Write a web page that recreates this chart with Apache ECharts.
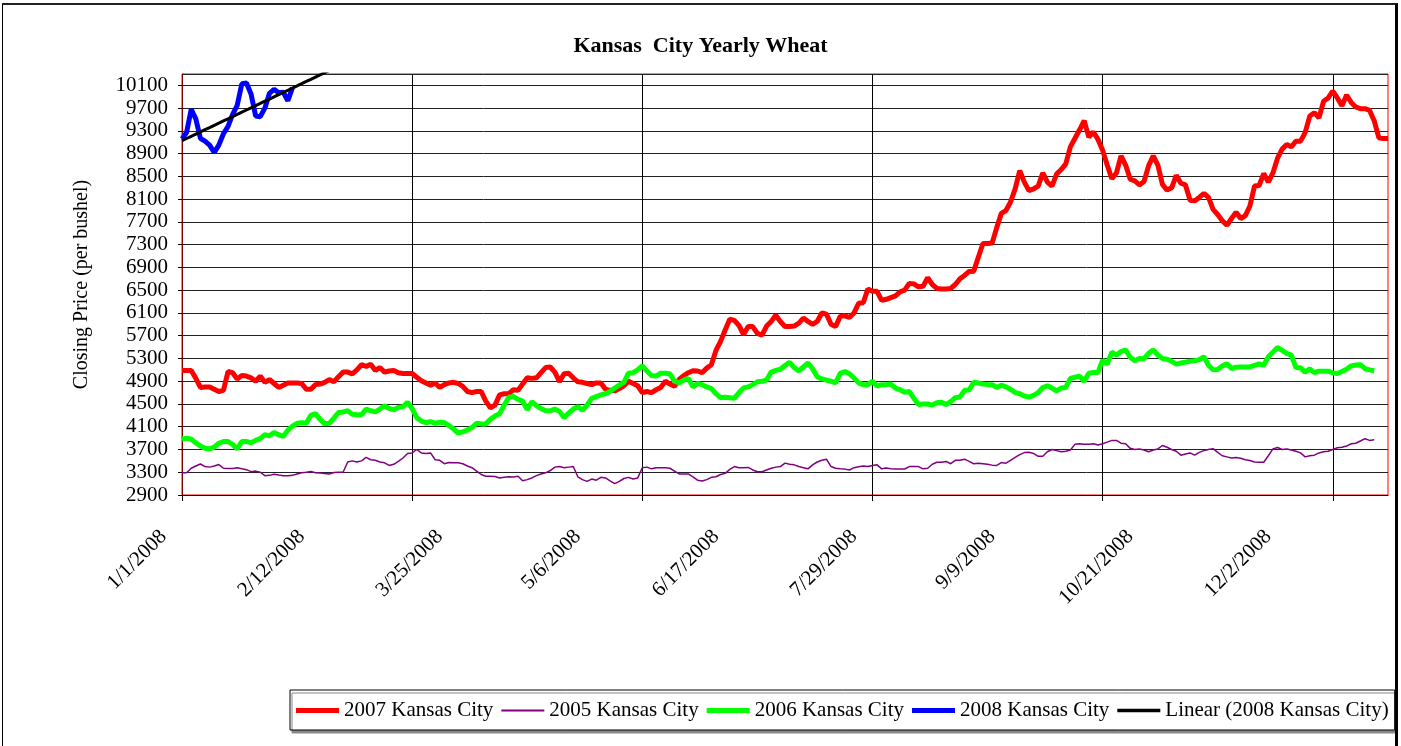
<!DOCTYPE html>
<html>
<head>
<meta charset="utf-8">
<script src="https://cdn.jsdelivr.net/npm/echarts@6/dist/echarts.min.js"></script>
<style>
  html, body { margin: 0; padding: 0; background: #fff; }
  #chart { position: absolute; left: 0; top: 0; width: 1401px; height: 746px; }
  .frame {
    position: absolute; left: 2px; top: 3px; width: 1392px; height: 800px;
    border-top: 2px solid #222; border-left: 1px solid #000; border-right: 3px solid #000;
    pointer-events: none;
  }
</style>
</head>
<body>
<div id="chart"></div>
<div class="frame"></div>
<script>
// weekdays of 2008 (plus Jan 1 2009) used as categories
const dayCount = 263;
const dates = [];
{
  const d = new Date(2008, 0, 1);
  while (dates.length < dayCount) {
    const wd = d.getDay();
    if (wd !== 0 && wd !== 6) dates.push((d.getMonth() + 1) + '/' + d.getDate() + '/' + d.getFullYear());
    d.setDate(d.getDate() + 1);
  }
}

const kc2007 = [
  5090,5090,5090,4950,4790,4800,4800,4760,4720,4740,
  5070,5050,4940,5000,4990,4960,4900,4990,4880,4930,
  4860,4790,4830,4870,4870,4870,4860,4760,4760,4840,
  4850,4880,4930,4890,4980,5060,5060,5030,5100,5190,
  5160,5200,5090,5140,5060,5080,5090,5050,5035,5035,
  5035,4970,4910,4870,4830,4870,4790,4840,4870,4880,
  4860,4810,4720,4700,4720,4720,4550,4430,4480,4660,
  4680,4680,4750,4740,4850,4960,4950,4960,5050,5140,
  5150,5060,4890,5030,5040,4960,4890,4880,4860,4840,
  4870,4870,4760,4740,4730,4770,4820,4900,4860,4820,
  4700,4720,4700,4750,4790,4900,4850,4810,4930,5000,
  5050,5085,5080,5050,5130,5190,5440,5600,5800,5990,
  5970,5880,5720,5860,5860,5740,5710,5870,5950,6060,
  5950,5860,5860,5870,5920,6010,5950,5900,5950,6100,
  6080,5900,5860,6040,6050,6020,6100,6270,6280,6520,
  6480,6480,6320,6340,6370,6400,6470,6500,6620,6610,
  6560,6570,6720,6600,6530,6520,6520,6530,6600,6700,
  6760,6830,6835,7080,7320,7320,7330,7600,7850,7900,
  8050,8280,8600,8400,8250,8280,8330,8560,8400,8330,
  8540,8620,8720,9020,9170,9320,9480,9190,9280,9150,
  8960,8700,8460,8560,8860,8700,8450,8420,8350,8410,
  8690,8860,8700,8360,8260,8300,8520,8380,8350,8080,
  8070,8130,8200,8130,7920,7830,7720,7640,7760,7870,
  7760,7810,7980,8330,8340,8550,8400,8560,8820,8980,
  9060,9020,9120,9120,9270,9560,9620,9530,9820,9880,
  10000,9880,9740,9930,9800,9720,9690,9690,9660,9480,
  9180,9165,9165
];

const kc2005 = [
  3290,3290,3370,3410,3445,3400,3390,3410,3435,3370,
  3365,3365,3380,3360,3345,3310,3320,3300,3240,3245,
  3265,3250,3240,3240,3245,3270,3290,3300,3315,3290,
  3285,3280,3270,3295,3300,3300,3480,3500,3480,3500,
  3560,3520,3510,3480,3465,3420,3440,3490,3550,3630,
  3640,3700,3640,3630,3640,3520,3510,3450,3470,3465,
  3465,3450,3410,3380,3320,3260,3230,3230,3225,3200,
  3210,3220,3215,3230,3150,3170,3200,3240,3270,3290,
  3330,3390,3400,3380,3390,3400,3220,3170,3140,3180,
  3160,3210,3200,3150,3100,3140,3190,3210,3180,3200,
  3380,3390,3360,3380,3380,3380,3370,3320,3270,3270,
  3270,3220,3160,3145,3170,3210,3220,3260,3280,3350,
  3400,3380,3380,3385,3340,3310,3310,3340,3370,3390,
  3400,3460,3440,3430,3400,3380,3360,3430,3480,3510,
  3530,3400,3370,3360,3355,3340,3380,3395,3410,3400,
  3420,3430,3360,3375,3360,3355,3355,3357,3400,3400,
  3400,3360,3370,3440,3475,3475,3490,3450,3510,3510,
  3530,3490,3450,3460,3450,3440,3425,3420,3470,3460,
  3510,3560,3610,3645,3650,3630,3580,3580,3660,3700,
  3680,3660,3670,3690,3790,3800,3790,3790,3800,3780,
  3800,3830,3860,3860,3810,3800,3720,3700,3710,3690,
  3660,3690,3710,3770,3740,3700,3670,3600,3620,3640,
  3600,3650,3680,3700,3715,3650,3590,3570,3550,3560,
  3545,3520,3505,3480,3475,3475,3590,3710,3735,3700,
  3710,3690,3670,3640,3570,3590,3600,3640,3660,3670,
  3700,3730,3740,3760,3800,3810,3850,3890,3860,3870
];

const kc2006 = [
  3880,3900,3880,3820,3760,3720,3710,3740,3810,3840,
  3840,3790,3710,3840,3840,3820,3860,3890,3960,3940,
  4000,3960,3930,4040,4110,4160,4170,4160,4300,4330,
  4230,4150,4160,4250,4350,4360,4380,4320,4310,4310,
  4410,4380,4360,4410,4470,4420,4400,4440,4450,4530,
  4420,4260,4200,4170,4190,4160,4180,4170,4120,4060,
  3990,4010,4040,4090,4160,4150,4150,4230,4290,4330,
  4480,4620,4630,4580,4550,4400,4540,4470,4420,4380,
  4380,4410,4370,4260,4340,4410,4450,4390,4480,4600,
  4630,4660,4680,4720,4780,4830,4880,5040,5050,5100,
  5170,5080,5000,4990,5040,5040,5030,4900,4870,4920,
  4950,4800,4860,4840,4800,4770,4680,4610,4620,4610,
  4600,4700,4780,4800,4840,4890,4900,4920,5060,5090,
  5110,5176,5230,5140,5080,5150,5220,5120,4980,4940,
  4920,4900,4870,5040,5070,5030,4960,4870,4840,4840,
  4900,4815,4840,4840,4850,4780,4750,4706,4720,4600,
  4490,4500,4500,4480,4520,4530,4490,4540,4610,4625,
  4740,4745,4880,4870,4850,4840,4840,4790,4830,4800,
  4760,4700,4680,4640,4620,4650,4700,4790,4820,4780,
  4730,4780,4790,4950,4970,4990,4900,5040,5055,5055,
  5270,5200,5410,5360,5420,5450,5320,5260,5300,5295,
  5390,5450,5360,5300,5285,5250,5200,5220,5235,5250,
  5260,5280,5330,5180,5100,5105,5170,5205,5123,5145,
  5150,5152,5152,5180,5205,5180,5328,5410,5495,5440,
  5390,5360,5140,5135,5060,5117,5050,5076,5076,5076,
  5047,5035,5070,5110,5170,5185,5190,5120,5100,5085
];

const kc2008 = [
  9160,9270,9680,9510,9170,9120,9050,8920,9050,9250,
  9380,9590,9750,10130,10140,9950,9560,9550,9700,9960,
  10030,9970,9980,9830,10060
];

const yTicks = { min: 2900, max: 10300, step: 400 };

// least squares trend of the 2008 series, like the spreadsheet's linear trendline
function linearTrend(values, length) {
  const n = values.length;
  let sx = 0, sy = 0, sxy = 0, sxx = 0;
  values.forEach((v, i) => { sx += i; sy += v; sxy += i * v; sxx += i * i; });
  const slope = (n * sxy - sx * sy) / (n * sxx - sx * sx);
  const icpt = (sy - slope * sx) / n;
  const out = [];
  for (let i = 0; i < length; i++) out.push(Math.round(icpt + slope * i));
  return out;
}
const trend2008 = linearTrend(kc2008, dayCount);

// legend swatches: a bar of given thickness centred in a 43x12 box
const swatch = (h) => 'path://M0,0L0,0M0,12L0,12M0,' + (6 - h / 2) + 'L43,' + (6 - h / 2) + 'L43,' + (6 + h / 2) + 'L0,' + (6 + h / 2) + 'Z';

const serif = 'Liberation Serif';
const myChart = echarts.init(document.getElementById('chart'));

const option = {
  animation: false,
  backgroundColor: '#fff',
  title: {
    text: 'Kansas  City Yearly Wheat',
    left: 'center',
    top: 30,
    textStyle: { fontFamily: serif, fontSize: 22, fontWeight: 'bold', color: '#000' }
  },
  grid: {
    left: 182, right: 13, top: 74, bottom: 251,
    show: true, borderColor: '#ff0000', borderWidth: 1, backgroundColor: '#fff'
  },
  legend: {
    left: 290,
    top: 690,
    itemWidth: 43,
    itemHeight: 12,
    itemGap: 8,
    padding: [10, 6, 9, 6],
    borderColor: '#000',
    borderWidth: 1,
    backgroundColor: '#fff',
    shadowColor: '#888',
    shadowOffsetX: 2,
    shadowOffsetY: 3,
    textStyle: { fontFamily: serif, fontSize: 21, color: '#000' },
    data: [
      { name: '2007 Kansas City', icon: swatch(5) },
      { name: '2005 Kansas City', icon: swatch(2) },
      { name: '2006 Kansas City', icon: swatch(5) },
      { name: '2008 Kansas City', icon: swatch(5) },
      { name: 'Linear (2008 Kansas City)', icon: swatch(3.5) }
    ]
  },
  xAxis: {
    type: 'category',
    boundaryGap: false,
    data: dates,
    axisLine: { lineStyle: { color: '#000', width: 1 } },
    axisTick: { interval: 49, length: 6, lineStyle: { color: '#000' } },
    splitLine: { show: true, interval: 49, lineStyle: { color: '#000', width: 1 } },
    axisLabel: {
      interval: 29,
      rotate: 45,
      margin: 20,
      padding: [0, 26, 0, 0],
      fontFamily: serif,
      fontSize: 21,
      color: '#000'
    }
  },
  yAxis: {
    type: 'value',
    min: yTicks.min,
    max: yTicks.max,
    interval: yTicks.step,
    name: 'Closing Price (per bushel)',
    nameLocation: 'middle',
    nameGap: 90,
    nameTextStyle: { fontFamily: serif, fontSize: 20, color: '#000' },
    axisLine: { show: true, lineStyle: { color: '#800000', width: 1 } },
    axisTick: { show: true, length: 4, lineStyle: { color: '#000' } },
    splitLine: { show: true, lineStyle: { color: '#222', width: 1 } },
    axisLabel: {
      showMaxLabel: false,
      margin: 14,
      fontFamily: serif,
      fontSize: 21,
      color: '#000',
      formatter: (v) => String(v)
    }
  },
  series: [
    {
      name: '2007 Kansas City', type: 'line', data: kc2007, symbol: 'none',
      lineStyle: { color: '#ff0000', width: 5 }, itemStyle: { color: '#ff0000' }
    },
    {
      name: '2005 Kansas City', type: 'line', data: kc2005, symbol: 'none',
      lineStyle: { color: '#800080', width: 1.5 }, itemStyle: { color: '#800080' }
    },
    {
      name: '2006 Kansas City', type: 'line', data: kc2006, symbol: 'none',
      lineStyle: { color: '#00ff00', width: 5 }, itemStyle: { color: '#00ff00' }
    },
    {
      name: '2008 Kansas City', type: 'line', data: kc2008, symbol: 'none',
      lineStyle: { color: '#0000ff', width: 5 }, itemStyle: { color: '#0000ff' }
    },
    {
      name: 'Linear (2008 Kansas City)', type: 'line', data: trend2008, symbol: 'none',
      clip: true,
      lineStyle: { color: '#000', width: 3 }, itemStyle: { color: '#000' }
    }
  ]
};

myChart.setOption(option);
</script>
</body>
</html>
